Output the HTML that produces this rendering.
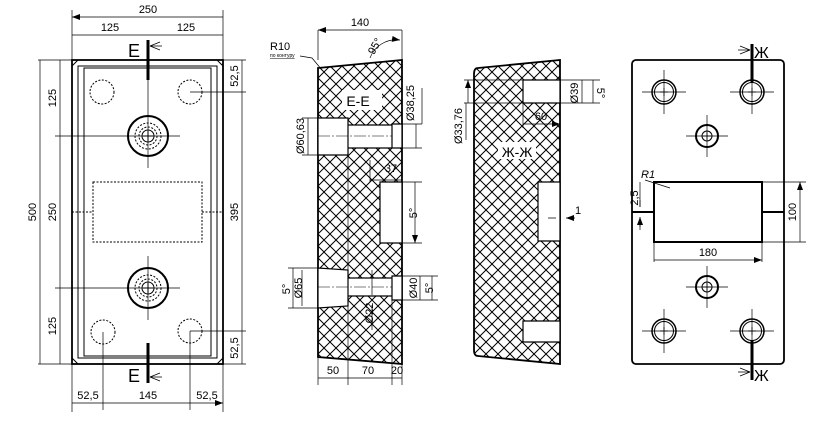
<!DOCTYPE html>
<html><head><meta charset="utf-8"><style>
html,body{margin:0;padding:0;background:#fff;}
svg{display:block;}
text{font-family:"Liberation Sans","DejaVu Sans",sans-serif;font-size:11px;fill:#000;}
</style></head><body>
<svg width="826" height="424" viewBox="0 0 826 424" xmlns="http://www.w3.org/2000/svg">
<defs>
<pattern id="h" width="12" height="12" patternUnits="userSpaceOnUse">
<path d="M0 0L12 12M12 0L0 12" stroke="#000" stroke-width="1"/>
</pattern>
<marker id="a" markerWidth="8" markerHeight="6" refX="8" refY="3" orient="auto-start-reverse" markerUnits="userSpaceOnUse"><path d="M0 0L8 3L0 6z" fill="#000"/></marker>
</defs>
<g stroke="#000" fill="none" stroke-width="1">
<!-- LEFT VIEW -->
<rect x="72" y="60" width="151" height="304" stroke-width="1.8"/>
<rect x="78" y="66" width="139" height="292"/>
<rect x="84" y="68" width="127" height="288"/>
<path d="M72 66L78 60M223 66L217 60M72 358L78 364M223 358L217 364" />
<path d="M72 60H38M223 60H246M72 364H38M223 364H246" stroke-width="0.7"/>
<path d="M72 60V10M223 60V10M72 364V412M223 364V412" stroke-width="0.7"/>
<path d="M72 17H223M72 35H148M148 35H223M40 60V364M60 60V136M60 136V288M60 288V364M242 60V92M242 92V332M242 332V364M72 403H103M103 403H192M192 403H223" stroke-width="0.7" marker-start="url(#a)" marker-end="url(#a)"/>
<path d="M55 136H180M55 288H180M190 92H246M190 331H246M103 332V410M190 331V410" stroke-width="0.7"/>
<path d="M148 40V80M148 343V383" stroke-width="3"/>
<path d="M148 80V168M148 256V320" stroke-width="0.7"/>
<circle cx="102" cy="92" r="12" stroke-dasharray="2 1.5"/>
<circle cx="190" cy="92" r="12" stroke-dasharray="2 1.5"/>
<circle cx="103" cy="332" r="12" stroke-dasharray="2 1.5"/>
<circle cx="190" cy="331" r="12" stroke-dasharray="2 1.5"/>
<g id="boss"><circle cx="148" cy="136" r="20" stroke-width="2"/><circle cx="148" cy="136" r="13" stroke-dasharray="2 1.5"/><circle cx="148" cy="136" r="9" stroke-dasharray="2 1.5"/><circle cx="148" cy="136" r="6"/><path d="M143 136H153M148 131V141"/></g>
<use href="#boss" y="152"/>
<rect x="93" y="182" width="109" height="60" stroke-dasharray="2 1.5"/>
<path d="M72 212H93M202 212H223" stroke-dasharray="2 1.5"/>
<path d="M150 46H162M150 46L160 42M150 46L160 50M150 377H162M150 377L160 373M150 377L160 381" stroke-width="0.7"/>

<!-- E-E SECTION -->
<path d="M318 68L402 60V364L318 357Z" fill="url(#h)" stroke-width="1.8"/>
<path d="M318 118H348V155H318ZM348 125H392V148H348ZM392 124H402V148H392ZM380 182H402V243H380ZM318 268L348 270V306L318 308ZM348 278H392V296H348ZM392 276H402V300H392Z" fill="#fff" stroke-width="1.2"/>
<path d="M318 136H392M318 287H392" stroke-width="0.6" stroke-dasharray="12 2 2 2"/>
<path d="M318 60V30M402 60V30M348 118V385M392 296V385M402 364V385M318 357V385" stroke-width="0.7"/>
<path d="M318 30H402M318 378H348M348 378H392M392 378H402M308 118V155M293 268V308M302 270V306M416 124V148M432 276V300M420 276V300M370 180H402M415 182V243" stroke-width="0.7" marker-start="url(#a)" marker-end="url(#a)"/>
<path d="M302 118H318M302 155H318M402 124H422M402 148H422M402 182H422M402 243H422M402 276H438M402 300H438M288 268H318M288 308H318M422 88V124M370 160V182" stroke-width="0.7"/>
<path d="M372 270V295M372 305V330" stroke-width="0.7"/>
<path d="M300 56L312 58L322 70" stroke-width="0.7"/>
<path d="M370 58A28 28 0 0 1 400 40" stroke-width="0.7" marker-end="url(#a)"/>

<!-- Ж-Ж SECTION -->
<path d="M478 68L560 60V364L478 356Q474 356 474 350V74Q474 68 478 68Z" fill="url(#h)" stroke-width="1.8"/>
<path d="M523 80H560V103H523ZM538 182H560V241H538ZM523 321H560V342H523Z" fill="#fff" stroke-width="1.2"/>
<path d="M464 80H600M464 103H600M523 103V128" stroke-width="0.7"/>
<path d="M468 80V103M582 80V103M593 80V103M523 124H560" stroke-width="0.7" marker-start="url(#a)" marker-end="url(#a)"/>
<path d="M548 218H556M575 218H566" stroke-width="0.7" marker-end="url(#a)"/>
<path d="M466 103V140" stroke-width="0.7"/>

<!-- RIGHT VIEW -->
<rect x="632" y="60" width="152" height="304" rx="4" stroke-width="1.8"/>
<g id="hole"><circle cx="664" cy="92" r="12" stroke-width="1.5"/><circle cx="664" cy="92" r="9.5"/><path d="M642 92H686M664 70V114" stroke-width="0.7"/><path d="M660 92H668M664 88V96" stroke-width="0.7"/></g>
<use href="#hole" x="88"/>
<use href="#hole" y="239"/>
<use href="#hole" x="88" y="239"/>
<g id="boss2"><circle cx="707" cy="136" r="11" stroke-width="2"/><circle cx="707" cy="136" r="5"/><path d="M686 136H728M707 115V157" stroke-width="0.7"/><path d="M703 136H711M707 132V140" stroke-width="0.7"/></g>
<use href="#boss2" y="151"/>
<rect x="654" y="182" width="108" height="60" stroke-width="2"/>
<path d="M632 212H654M762 212H784" stroke-width="2"/>
<path d="M752 44V82M752 340V380" stroke-width="3"/>
<path d="M762 182H806M762 242H806M654 242V262M762 242V262M640 182V207M640 217V230" stroke-width="0.7"/>
<path d="M800 182V242M654 260H762" stroke-width="0.7" marker-start="url(#a)" marker-end="url(#a)"/>
<path d="M640 200V207M640 227V217" stroke-width="0.7" marker-end="url(#a)"/>
<path d="M645 180L670 188" stroke-width="0.7"/>
<path d="M750 50H738M750 50L740 46M750 50L740 54M750 372H738M750 372L740 368M750 372L740 376" stroke-width="0.7"/>
</g>
<g>
<text x="148" y="13" text-anchor="middle">250</text>
<text x="110" y="31" text-anchor="middle">125</text>
<text x="186" y="31" text-anchor="middle">125</text>
<text x="128" y="57" style="font-size:18px">E</text>
<text x="128" y="382" style="font-size:18px">E</text>
<text x="36" y="212" text-anchor="middle" transform="rotate(-90 36 212)">500</text>
<text x="56" y="98" text-anchor="middle" transform="rotate(-90 56 98)">125</text>
<text x="56" y="212" text-anchor="middle" transform="rotate(-90 56 212)">250</text>
<text x="56" y="326" text-anchor="middle" transform="rotate(-90 56 326)">125</text>
<text x="238" y="212" text-anchor="middle" transform="rotate(-90 238 212)">395</text>
<text x="238" y="76" text-anchor="middle" transform="rotate(-90 238 76)">52,5</text>
<text x="238" y="348" text-anchor="middle" transform="rotate(-90 238 348)">52,5</text>
<text x="88" y="399" text-anchor="middle">52,5</text>
<text x="148" y="399" text-anchor="middle">145</text>
<text x="207" y="399" text-anchor="middle">52,5</text>

<text x="360" y="26" text-anchor="middle">140</text>
<text x="270" y="50">R10</text>
<text x="270" y="57" style="font-size:5px;text-decoration:underline">по контуру</text>
<text x="378" y="48" text-anchor="middle" transform="rotate(-60 378 48)">95°</text>
<rect x="342" y="90" width="40" height="20" fill="#fff"/>
<text x="358" y="106" text-anchor="middle" style="font-size:14px">E-E</text>
<text x="304" y="136" text-anchor="middle" transform="rotate(-90 304 136)">Ø60,63</text>
<text x="414" y="103" text-anchor="middle" transform="rotate(-90 414 103)">Ø38,25</text>
<text x="391" y="172" text-anchor="middle">37</text>
<text x="417" y="213" text-anchor="middle" transform="rotate(-90 417 213)">5°</text>
<text x="290" y="289" text-anchor="middle" transform="rotate(-90 290 289)">5°</text>
<text x="302" y="288" text-anchor="middle" transform="rotate(-90 302 288)">Ø65</text>
<text x="417" y="288" text-anchor="middle" transform="rotate(-90 417 288)">Ø40</text>
<text x="433" y="288" text-anchor="middle" transform="rotate(-90 433 288)">5°</text>
<text x="373" y="313" text-anchor="middle" transform="rotate(-90 373 313)">Ø22</text>
<text x="333" y="374" text-anchor="middle">50</text>
<text x="368" y="374" text-anchor="middle">70</text>
<text x="397" y="374" text-anchor="middle">20</text>

<text x="462" y="126" text-anchor="middle" transform="rotate(-90 462 126)">Ø33,76</text>
<text x="578" y="93" text-anchor="middle" transform="rotate(-90 578 93)">Ø39</text>
<text x="597" y="93" text-anchor="middle" transform="rotate(90 597 93)">5°</text>
<text x="541" y="120" text-anchor="middle">60</text>
<rect x="498" y="142" width="38" height="17" fill="#fff"/>
<text x="517" y="157" text-anchor="middle" style="font-size:14px">Ж-Ж</text>
<text x="575" y="214" >1</text>

<text x="754" y="58" style="font-size:16px">Ж</text>
<text x="754" y="381" style="font-size:16px">Ж</text>
<text x="641" y="178" style="font-style:italic">R1</text>
<text x="638" y="198" text-anchor="middle" transform="rotate(-90 638 198)">2,5</text>
<text x="796" y="212" text-anchor="middle" transform="rotate(-90 796 212)">100</text>
<text x="708" y="256" text-anchor="middle">180</text>
</g>
</svg>
</body></html>
